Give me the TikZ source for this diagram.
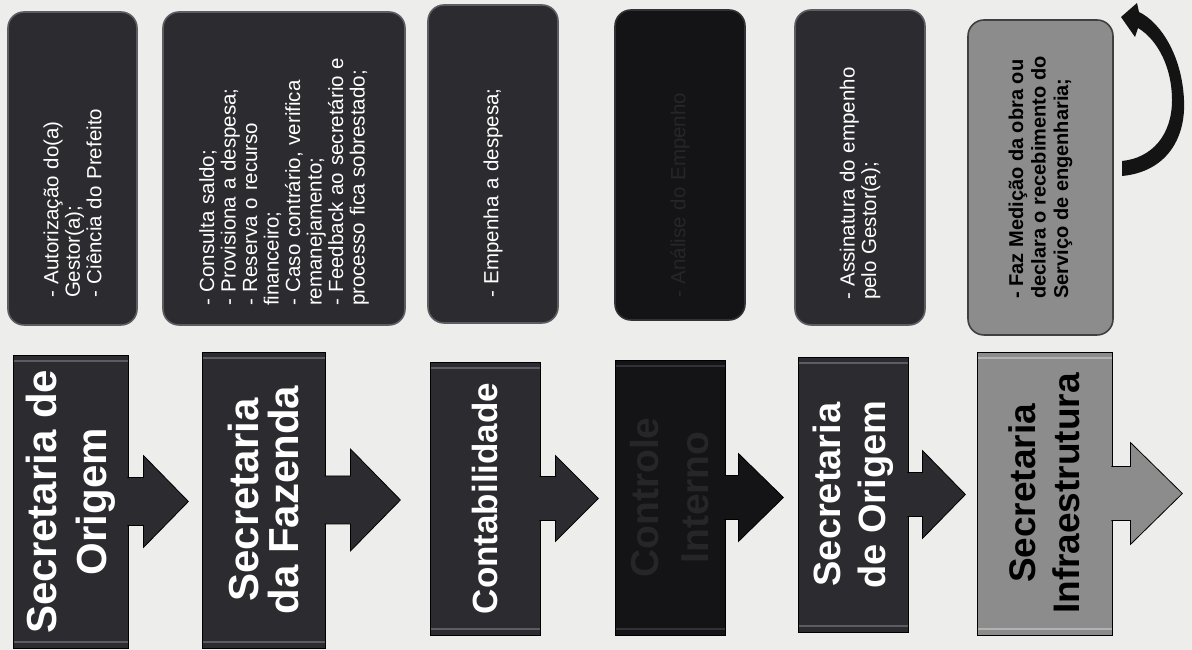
\documentclass[tikz,border=0pt]{standalone}
\usepackage{fontspec}
\setmainfont{Liberation Sans}
\usetikzlibrary{calc}
\definecolor{bgc}{RGB}{237,237,235}
\definecolor{boxdark}{RGB}{44,44,48}
\definecolor{boxblack}{RGB}{20,20,22}
\definecolor{boxgray}{RGB}{140,140,140}
\definecolor{edgedark}{RGB}{92,92,98}
\definecolor{edgeblack}{RGB}{50,50,54}
\definecolor{edgegray}{RGB}{178,178,178}
\definecolor{ghost}{RGB}{38,38,40}
\tikzset{
  topbox/.style n args={3}{rotate=90, rounded corners=16pt, draw=#2, line width=1.6pt,
    fill=#1, text=#3, align=left, inner sep=0pt},
  titlebox/.style n args={3}{rotate=90, fill=#1, draw=black, line width=0.8pt, text=#3,
    align=center, inner sep=0pt,
    path picture={\draw[#2, line width=2pt]
      ([shift={(6pt,6pt)}]path picture bounding box.south west) rectangle
      ([shift={(-6pt,-6pt)}]path picture bounding box.north east);}},
  smalltxt/.style={font=\fontsize{20.5pt}{21.5pt}\selectfont},
}
\newcommand\blockarr[6]{%
  \filldraw[fill=#6, draw=black, line width=0.8pt]
    ($(#1.south)+(-1pt,#4pt)$) -- ++(#2pt+1pt,0pt) -- ++(0pt,#5pt-#4pt)
    -- ++(#3pt,-#5pt) -- ++(-#3pt,-#5pt) -- ++(0pt,#5pt-#4pt) -- ++(-#2pt-1pt,0pt);
}
\begin{document}
\begin{tikzpicture}[x=1pt,y=1pt]
\fill[bgc] (0,0) rectangle (1192,650);
\useasboundingbox (0,0) rectangle (1192,650);

% ---------- top boxes ----------
\node[topbox={boxdark}{edgedark}{white}, smalltxt, minimum width=313pt, minimum height=129pt, text width=259pt]
  (t1) at (72.5,481.5) {- Autorização do(a)\\Gestor(a);\\- Ciência do Prefeito};
\node[topbox={boxdark}{edgedark}{white}, smalltxt, minimum width=313pt, minimum height=242pt, text width=275pt]
  (t2) at (284,481.5) {- Consulta saldo;\\- Provisiona a despesa;\\- Reserva o recurso\\financeiro;\\- Caso contrário, verifica\\remanejamento;\\- Feedback ao secretário e\\processo fica sobrestado;};
\node[topbox={boxdark}{edgedark}{white}, smalltxt, minimum width=318pt, minimum height=130pt, text width=268pt]
  (t3) at (493,486) {- Empenha a despesa;};
\node[topbox={boxblack}{edgeblack}{ghost}, smalltxt, minimum width=310pt, minimum height=130pt, text width=266pt]
  (t4) at (680,485) {- Análise do Empenho};
\node[topbox={boxdark}{edgedark}{white}, smalltxt, minimum width=315pt, minimum height=130pt, text width=265pt]
  (t5) at (860,482.5) {- Assinatura do empenho\\pelo Gestor(a);};
\node[topbox={boxgray}{black!75}{black}, font=\bfseries\fontsize{20pt}{22.5pt}\selectfont,
  minimum width=315pt, minimum height=145pt]
  (t6) at (1040.5,472.5) {- Faz Medição da obra ou\\declara o recebimento do\\Serviço de engenharia;};

% ---------- title boxes ----------
\node[titlebox={boxdark}{edgedark}{white}, minimum width=293pt, minimum height=115pt,
  font=\bfseries\fontsize{42pt}{50pt}\selectfont] (b1) at (70.5,148.5) {Secretaria de\\Origem};
\node[titlebox={boxdark}{edgedark}{white}, minimum width=296pt, minimum height=123pt,
  font=\bfseries\fontsize{42pt}{40pt}\selectfont] (b2) at (263.5,150) {Secretaria\\da Fazenda};
\node[titlebox={boxdark}{edgedark}{white}, minimum width=273pt, minimum height=110pt,
  font=\bfseries\fontsize{35pt}{42pt}\selectfont] (b3) at (485,151.5) {Contabilidade};
\node[titlebox={boxblack}{edgeblack}{ghost}, minimum width=275pt, minimum height=110pt,
  font=\bfseries\fontsize{39pt}{50pt}\selectfont] (b4) at (670,152.5) {Controle\\Interno};
\node[titlebox={boxdark}{edgedark}{white}, minimum width=275pt, minimum height=110pt,
  font=\bfseries\fontsize{38pt}{45pt}\selectfont] (b5) at (853,155.5) {Secretaria\\de Origem};
\node[titlebox={boxgray}{edgegray}{black}, minimum width=283pt, minimum height=135pt,
  font=\bfseries\fontsize{37pt}{44pt}\selectfont] (b6) at (1044.5,156.5) {Secretaria\\Infraestrutura};

% ---------- block arrows ----------
\blockarr{b1}{15}{45}{24}{46}{boxdark}
\blockarr{b2}{25}{50}{24}{51}{boxdark}
\blockarr{b3}{15}{43}{22}{43}{boxdark}
\blockarr{b4}{13}{45}{22}{44}{boxblack}
\blockarr{b5}{14}{43}{22}{44}{boxdark}
\blockarr{b6}{18}{52}{27}{51}{boxgray}

% ---------- curved return arrow ----------
\fill[black!92] (1122,474) .. controls (1165,478) and (1186,510) .. (1184,550)
  .. controls (1182,595) and (1160,628) .. (1139,638)
  -- (1137,647) -- (1121,633) -- (1135,613) -- (1138,622)
  .. controls (1158,610) and (1172,582) .. (1172,550)
  .. controls (1172,515) and (1152,492) .. (1122,489) -- cycle;
\end{tikzpicture}
\end{document}
